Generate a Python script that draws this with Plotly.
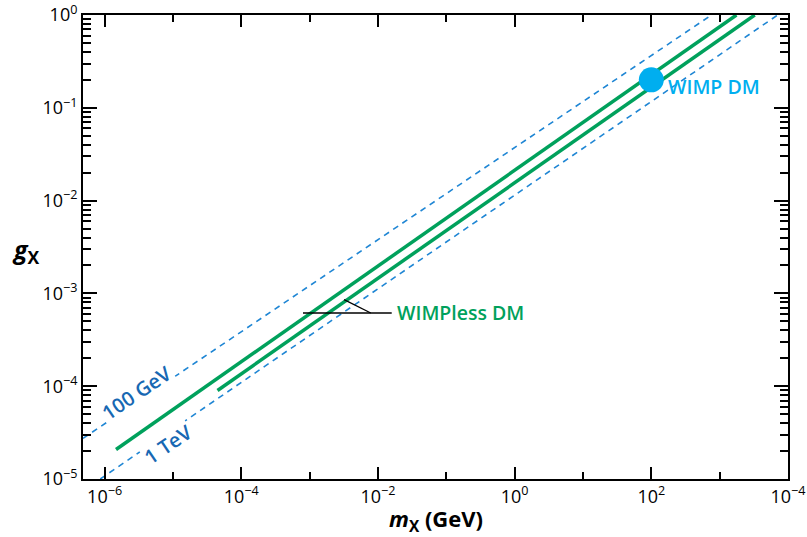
import numpy as np
import plotly.graph_objects as go

# --- data -------------------------------------------------------------
# WIMPless relic-density bands (two green lines), m_X in GeV, g_X dimensionless
wimpless_upper_m = [1.47e-6, 1.76e3]
wimpless_upper_g = [2.08e-5, 1.0]
wimpless_lower_m = [4.49e-5, 3.26e3]
wimpless_lower_g = [9.0e-5, 1.0]

# reference lines for hidden-sector scales
gev100_m = [4.83e-7, 7.59e2]
gev100_g = [2.74e-5, 1.0]
tev1_m = [8.65e-7, 7.06e3]
tev1_g = [1.0e-5, 1.0]

# WIMP point
wimp_m = [100.0]
wimp_g = [0.2]

# leader lines for the WIMPless label
leader_h_m = [8.0e-4, 1.59e-2]
leader_h_g = [6.15e-4, 6.15e-4]
leader_d_m = [3.19e-3, 7.85e-3]
leader_d_g = [8.57e-4, 6.15e-4]

# axis ticks
x_major = [1e-6, 1e-4, 1e-2, 1e0, 1e2, 1e4]
x_major_text = ["10<sup>−6</sup>", "10<sup>−4</sup>", "10<sup>−2</sup>",
                "10<sup>0</sup>", "10<sup>2</sup>", "10<sup>−4</sup>"]
x_minor = [1e-5, 1e-3, 1e-1, 1e1, 1e3]
y_major = [1e-5, 1e-4, 1e-3, 1e-2, 1e-1, 1e0]
y_major_text = ["10<sup>−5</sup>", "10<sup>−4</sup>", "10<sup>−3</sup>",
                "10<sup>−2</sup>", "10<sup>−1</sup>", "10<sup>0</sup>"]
y_minor = [k * 10.0 ** e for e in range(-5, 0) for k in range(2, 10)]

GREEN = "#00a15c"
DASH_BLUE = "#1f86d4"
LABEL_BLUE = "#1768b3"
CYAN = "#00aeef"
FONT = "Open Sans"

fig = go.Figure()

dash_style = dict(color=DASH_BLUE, width=1.6, dash="6px,5px")
fig.add_trace(go.Scatter(x=gev100_m, y=gev100_g, mode="lines", line=dash_style))
fig.add_trace(go.Scatter(x=tev1_m, y=tev1_g, mode="lines", line=dash_style))

green_style = dict(color=GREEN, width=3.5)
fig.add_trace(go.Scatter(x=wimpless_upper_m, y=wimpless_upper_g, mode="lines", line=green_style))
fig.add_trace(go.Scatter(x=wimpless_lower_m, y=wimpless_lower_g, mode="lines", line=green_style))

leader_style = dict(color="black", width=1.3)
fig.add_trace(go.Scatter(x=leader_h_m, y=leader_h_g, mode="lines", line=leader_style))
fig.add_trace(go.Scatter(x=leader_d_m, y=leader_d_g, mode="lines", line=leader_style))

fig.add_trace(go.Scatter(x=wimp_m, y=wimp_g, mode="markers",
                         marker=dict(color=CYAN, size=25, line=dict(width=0))))

lg = np.log10

# text labels (annotation positions on log axes are given as log10 values)
fig.add_annotation(x=lg(wimp_m[0]), y=lg(wimp_g[0]), text="WIMP DM",
                   showarrow=False, xanchor="left", yanchor="middle",
                   xshift=15, yshift=-7,
                   font=dict(family=FONT, size=19.5, color=CYAN, weight=600))
fig.add_annotation(x=lg(leader_h_m[1]), y=lg(leader_h_g[1]), text="WIMPless DM",
                   showarrow=False, xanchor="left", yanchor="middle", xshift=3,
                   font=dict(family=FONT, size=19.5, color=GREEN, weight=600))


def on_line(xs, ys, lx):
    """log10 g on a straight log-log line at log10 m = lx"""
    x0, x1 = lg(xs[0]), lg(xs[1])
    y0, y1 = lg(ys[0]), lg(ys[1])
    return y0 + (lx - x0) * (y1 - y0) / (x1 - x0)


# scale labels sitting on the dashed lines
slope_angle = -34
x100 = -5.529
fig.add_annotation(x=x100, y=on_line(gev100_m, gev100_g, x100), text="100 GeV",
                   showarrow=False, textangle=slope_angle, yshift=10, bgcolor="white",
                   font=dict(family=FONT, size=20, color=LABEL_BLUE, weight=600))
x1t = -5.076
fig.add_annotation(x=x1t, y=on_line(tev1_m, tev1_g, x1t), text="1 TeV",
                   showarrow=False, textangle=slope_angle, yshift=-12, bgcolor="white",
                   font=dict(family=FONT, size=20, color=LABEL_BLUE, weight=600))

# axis titles
fig.add_annotation(xref="paper", yref="paper", x=0.5, y=0, yshift=-41,
                   text="<b><i>m</i><sub>X</sub> (GeV)</b>", showarrow=False,
                   yanchor="middle", font=dict(family=FONT, size=22, color="black"))
fig.add_annotation(xref="paper", yref="paper", x=0, y=0.5, xshift=-57, yshift=-3,
                   text="<b><i>g</i><sub>X</sub></b>", showarrow=False,
                   xanchor="center", yanchor="middle",
                   font=dict(family=FONT, size=25, color="black"))

axis_common = dict(type="log", showline=True, linecolor="black", linewidth=2,
                   mirror="ticks", ticks="inside", tickcolor="black", tickwidth=1.5,
                   showgrid=False, zeroline=False, automargin=False,
                   tickfont=dict(family=FONT, size=18, color="black"))

fig.update_xaxes(**axis_common, range=[-6.316, 4.0], tickvals=x_major,
                 ticktext=x_major_text, ticklen=12,
                 minor=dict(tickvals=x_minor, ticks="inside", ticklen=7,
                            tickcolor="black", tickwidth=1.5, showgrid=False))
fig.update_yaxes(**axis_common, range=[-5, 0], tickvals=y_major,
                 ticktext=y_major_text, ticklen=14,
                 minor=dict(tickvals=y_minor, ticks="inside", ticklen=8,
                            tickcolor="black", tickwidth=1.5, showgrid=False))

fig.update_layout(width=807, height=537, showlegend=False,
                  margin=dict(l=83, r=19, t=15, b=58, autoexpand=False),
                  paper_bgcolor="white", plot_bgcolor="white",
                  font=dict(family=FONT))

fig.write_html("out.html")
